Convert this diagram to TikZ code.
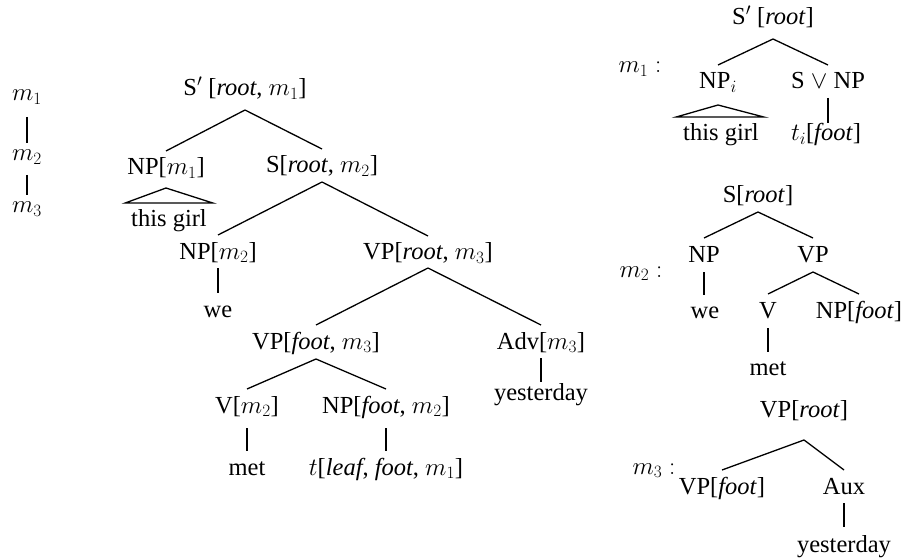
\documentclass[tikz,border=0pt]{standalone}
\usepackage{fontspec}
\setmainfont{Liberation Serif}
\begin{document}
\begin{tikzpicture}[x=1pt, y=-1pt,
  font=\fontsize{24.5}{29}\selectfont,
  every node/.style={inner sep=0pt, outer sep=0pt},
  tn/.style={anchor=base, text height=24pt, text depth=10pt},
  ml/.style={anchor=base},
  every path/.style={line width=1.3pt}]
\useasboundingbox (0,0) rectangle (906,559);

% ---- chain of elementary trees ----
\node[ml, text height=18pt, text depth=16pt] (c1) at (27,101) {$m_1$};
\node[ml, text height=18pt, text depth=14pt] (c2) at (27,161) {$m_2$};
\node[ml, text height=18pt] (c3) at (27,213) {$m_3$};
\draw (c1.south) -- (c2.north);
\draw (c2.south) -- (c3.north);

% ---- derived tree ----
\node[tn, text depth=14pt] (S1) at (245,96) {S$'$ [\textit{root}, $m_1$]};
\node[tn, text depth=13pt] (NPm1) at (166,175) {NP[$m_1$]};
\node[tn, text depth=9pt] (Sm2) at (322,173) {S[\textit{root}, $m_2$]};
\node[tn] (girl1) at (169,227) {this girl};
\node[tn, text depth=9pt] (NPm2) at (218,259) {NP[$m_2$]};
\node[tn] (we1) at (218,317) {we};
\node[tn, text depth=8pt] (VPr) at (428,260) {VP[\textit{root}, $m_3$]};
\node[tn] (VPf) at (316,349) {VP[\textit{foot}, $m_3$]};
\node[tn, text depth=9pt] (Adv) at (541,349) {Adv[$m_3$]};
\node[tn, text height=18pt] (yest1) at (541,400) {yesterday};
\node[tn, text depth=15pt] (Vm2) at (247,413) {V[$m_2$]};
\node[tn, text depth=15pt] (NPf) at (386,413) {NP[\textit{foot}, $m_2$]};
\node[tn] (met1) at (247,475) {met};
\node[tn] (t1) at (386,475) {$t$[\textit{leaf}, \textit{foot}, $m_1$]};

\draw (S1.south) -- (NPm1.north);
\draw (S1.south) -- (Sm2.north);
\draw ([xshift=-6pt]girl1.north west) -- (NPm1.south) -- ([xshift=6pt]girl1.north east) -- cycle;
\draw (Sm2.south) -- (NPm2.north);
\draw (Sm2.south) -- (VPr.north);
\draw (NPm2.south) -- (NPm2.south |- we1.north);
\draw (VPr.south) -- (VPf.north);
\draw (VPr.south) -- (Adv.north);
\draw (Adv.south) -- (Adv.south |- yest1.north);
\draw (VPf.south) -- (Vm2.north);
\draw (VPf.south) -- (NPf.north);
\draw (Vm2.south) -- (Vm2.south |- met1.north);
\draw (NPf.south) -- (NPf.south |- t1.north);

% ---- elementary tree m1 ----
\node[ml] (r1) at (640,73) {$m_1:$};
\node[tn, text depth=14pt] (Sp) at (773,25) {S$'$ [\textit{root}]};
\node[tn, text depth=16pt] (NPi) at (718,89) {NP$_i$};
\node[tn, text depth=9pt] (SvNP) at (828,89) {S $\vee$ NP};
\node[tn] (girl2) at (721,141) {this girl};
\node[tn, text height=18pt] (ti) at (826,141) {$t_i$[\textit{foot}]};
\draw (Sp.south) -- (NPi.north);
\draw (Sp.south) -- (SvNP.north);
\draw ([xshift=-7pt]girl2.north west) -- (NPi.south) -- ([xshift=5pt]girl2.north east) -- cycle;
\draw (SvNP.south) -- (SvNP.south |- ti.north);

% ---- elementary tree m2 ----
\node[ml] (r2) at (641,277) {$m_2:$};
\node[tn, text depth=9pt] (Sr) at (758,203) {S[\textit{root}]};
\node[tn] (NPr) at (704,262) {NP};
\node[tn] (VPr2) at (813,262) {VP};
\node[tn, text height=23pt] (we2) at (705,318) {we};
\node[tn] (V2) at (768,318) {V};
\node[tn] (NPft) at (859,318) {NP[\textit{foot}]};
\node[tn, text height=23pt] (met2) at (768,375) {met};
\draw (Sr.south) -- (NPr.north);
\draw (Sr.south) -- (VPr2.north);
\draw (NPr.south) -- (NPr.south |- we2.north);
\draw (VPr2.south) -- (V2.north);
\draw (VPr2.south) -- (NPft.north);
\draw (V2.south) -- (V2.south |- met2.north);

% ---- elementary tree m3 ----
\node[ml] (r3) at (654,474) {$m_3:$};
\node[tn, text depth=23pt] (VProot) at (804,417) {VP[\textit{root}]};
\node[tn] (VPft) at (722,494) {VP[\textit{foot}]};
\node[tn, text depth=9pt] (Aux) at (844,494) {Aux};
\node[tn, text height=25pt] (yest2) at (844,552) {yesterday};
\draw (VProot.south) -- (VPft.north);
\draw (VProot.south) -- (Aux.north);
\draw (Aux.south) -- (Aux.south |- yest2.north);
\end{tikzpicture}
\end{document}
